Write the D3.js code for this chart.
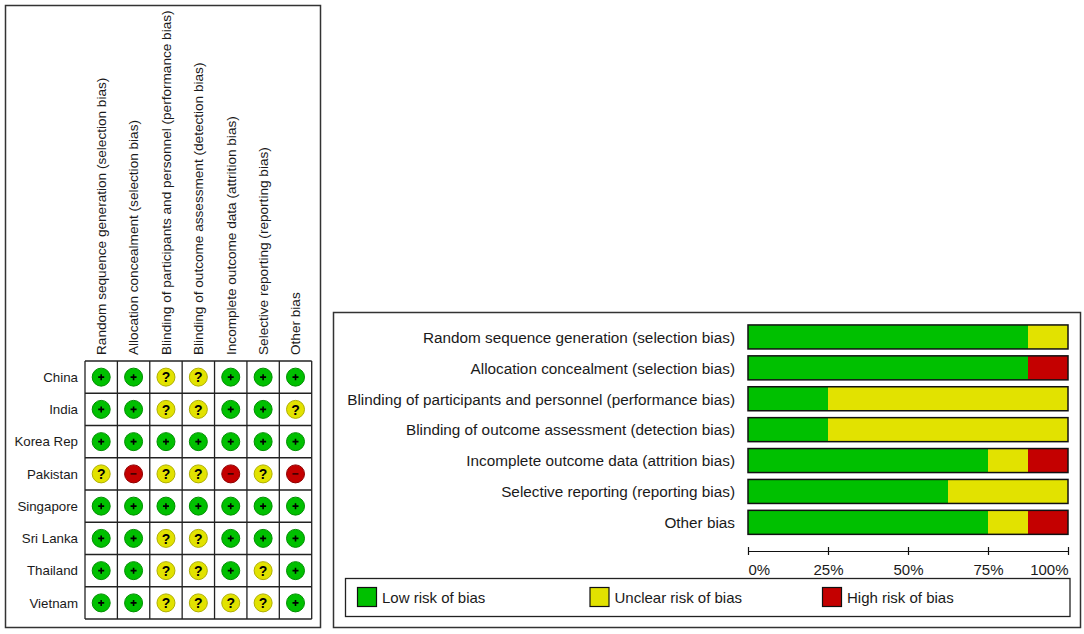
<!DOCTYPE html>
<html>
<head>
<meta charset="utf-8">
<script src="https://cdn.jsdelivr.net/npm/d3@7"></script>
<style>
  body { margin: 0; background: #fff; }
  text { font-family: "Liberation Sans", Arial, sans-serif; fill: #1a1a1a; }
</style>
</head>
<body>
<svg width="1084" height="634"></svg>
<script>
// risk of bias domains (columns / bar rows)
var domains = [
    "Random sequence generation (selection bias)",
    "Allocation concealment (selection bias)",
    "Blinding of participants and personnel (performance bias)",
    "Blinding of outcome assessment (detection bias)",
    "Incomplete outcome data (attrition bias)",
    "Selective reporting (reporting bias)",
    "Other bias"
];
var barLabels = domains;

var studies = ["China", "India", "Korea Rep", "Pakistan", "Singapore", "Sri Lanka", "Thailand", "Vietnam"];

// judgements per study, in domain order: L = low, U = unclear, H = high
var judgements = [
    ["L", "L", "U", "U", "L", "L", "L"],
    ["L", "L", "U", "U", "L", "L", "U"],
    ["L", "L", "L", "L", "L", "L", "L"],
    ["U", "H", "U", "U", "H", "U", "H"],
    ["L", "L", "L", "L", "L", "L", "L"],
    ["L", "L", "U", "U", "L", "L", "L"],
    ["L", "L", "U", "U", "L", "U", "L"],
    ["L", "L", "U", "U", "U", "U", "L"]
];

// summary percentages per domain
var lowPct     = [87.5, 87.5, 25, 25, 75, 62.5, 75];
var unclearPct = [12.5, 0, 75, 75, 12.5, 37.5, 12.5];
var highPct    = [0, 12.5, 0, 0, 12.5, 0, 12.5];

var tickValues = [0, 25, 50, 75, 100];
var legendLabels = ["Low risk of bias", "Unclear risk of bias", "High risk of bias"];

var colors = { L: "#00c000", U: "#e2e200", H: "#c40000" };
var edge   = { L: "#009000", U: "#b0b000", H: "#900000" };

var svg = d3.select('svg');

// ---------- left panel: traffic light grid ----------
svg.append("rect")
    .attr("x", 5.5).attr("y", 5.5)
    .attr("width", 315).attr("height", 622)
    .attr("fill", "none")
    .attr("stroke", "#333")
    .attr("stroke-width", 1.5);

var gx = d3.scaleBand().domain(d3.range(domains.length)).range([85, 311.7]);
var gy = d3.scaleBand().domain(studies).range([361, 619]);

var grid = svg.append("g");

grid.selectAll("line.v")
    .data(d3.range(domains.length + 1)).enter()
    .append("line")
    .attr("x1", function(d) { return 85 + d * gx.bandwidth(); })
    .attr("x2", function(d) { return 85 + d * gx.bandwidth(); })
    .attr("y1", 361).attr("y2", 619)
    .attr("stroke", "#222").attr("stroke-width", 1.3);

grid.selectAll("line.h")
    .data(d3.range(studies.length + 1)).enter()
    .append("line")
    .attr("y1", function(d) { return 361 + d * gy.bandwidth(); })
    .attr("y2", function(d) { return 361 + d * gy.bandwidth(); })
    .attr("x1", 85).attr("x2", 311.7)
    .attr("stroke", "#222").attr("stroke-width", 1.3);

// column headers
grid.selectAll("text.col")
    .data(domains).enter()
    .append("text")
    .attr("transform", function(d, i) {
        return "translate(" + (gx(i) + gx.bandwidth() / 2) + ",355) rotate(-90)";
    })
    .attr("dy", "0.35em")
    .attr("font-size", 13.6)
    .text(function(d) { return d; });

// row labels
grid.selectAll("text.row")
    .data(studies).enter()
    .append("text")
    .attr("x", 78)
    .attr("y", function(d) { return gy(d) + gy.bandwidth() / 2; })
    .attr("dy", "0.35em")
    .attr("text-anchor", "end")
    .attr("font-size", 13.3)
    .text(function(d) { return d; });

// cells
var cells = [];
judgements.forEach(function(row, r) {
    row.forEach(function(j, c) { cells.push({ study: studies[r], col: c, j: j }); });
});

var cell = grid.selectAll("g.cell")
    .data(cells).enter()
    .append("g")
    .attr("transform", function(d) {
        return "translate(" + (gx(d.col) + gx.bandwidth() / 2) + "," + (gy(d.study) + gy.bandwidth() / 2) + ")";
    });

cell.append("circle")
    .attr("r", 9)
    .attr("fill", function(d) { return colors[d.j]; })
    .attr("stroke", function(d) { return edge[d.j]; })
    .attr("stroke-width", 1);

cell.filter(function(d) { return d.j === "L"; })
    .append("path")
    .attr("d", "M-3,0H3M0,-3V3")
    .attr("stroke", "#000").attr("stroke-width", 1.6);

cell.filter(function(d) { return d.j === "H"; })
    .append("path")
    .attr("d", "M-3,0H3")
    .attr("stroke", "#3a0000").attr("stroke-width", 1.6);

cell.filter(function(d) { return d.j === "U"; })
    .append("text")
    .attr("text-anchor", "middle")
    .attr("dy", "0.37em")
    .attr("font-size", 14)
    .attr("font-weight", "bold")
    .style("fill", "#000")
    .text("?");

// ---------- right panel: summary bars ----------
svg.append("rect")
    .attr("x", 333.5).attr("y", 312.5)
    .attr("width", 747).attr("height", 315)
    .attr("fill", "none")
    .attr("stroke", "#333")
    .attr("stroke-width", 1.5);

var x = d3.scaleLinear().domain([0, 100]).range([748, 1068]);
var y = d3.scaleBand().domain(barLabels).range([321.5, 537.8]).paddingInner(0.223).paddingOuter(0.1115);

var rows = barLabels.map(function(d, i) {
    return { label: d, L: lowPct[i], U: unclearPct[i], H: highPct[i] };
});
var stack = d3.stack().keys(["L", "U", "H"])(rows);

var bars = svg.append("g");

bars.selectAll("g.layer")
    .data(stack).enter()
    .append("g")
    .attr("fill", function(d) { return colors[d.key]; })
    .selectAll("rect")
    .data(function(d) { return d; }).enter()
    .append("rect")
    .attr("x", function(d) { return x(d[0]); })
    .attr("width", function(d) { return x(d[1]) - x(d[0]); })
    .attr("y", function(d) { return y(d.data.label); })
    .attr("height", y.bandwidth());

bars.selectAll("rect.outline")
    .data(rows).enter()
    .append("rect")
    .attr("x", x(0))
    .attr("width", x(100) - x(0))
    .attr("y", function(d) { return y(d.label); })
    .attr("height", y.bandwidth())
    .attr("fill", "none")
    .attr("stroke", "#111")
    .attr("stroke-width", 1.5);

bars.selectAll("text.lab")
    .data(barLabels).enter()
    .append("text")
    .attr("x", 735)
    .attr("y", function(d) { return y(d) + y.bandwidth() / 2; })
    .attr("dy", "0.38em")
    .attr("text-anchor", "end")
    .attr("font-size", 15.3)
    .text(function(d) { return d; });

// axis
var axis = svg.append("g")
    .attr("transform", "translate(0,551)")
    .call(d3.axisBottom(x)
        .tickValues(tickValues)
        .tickSizeInner(4)
        .tickSizeOuter(0)
        .tickPadding(9)
        .tickFormat(function(d) { return d + "%"; }));

axis.select(".domain").attr("stroke", "#111").attr("stroke-width", 1.2);
axis.selectAll(".tick line").attr("y1", -4).attr("y2", 4).attr("stroke", "#111").attr("stroke-width", 1.2);
axis.selectAll(".tick text")
    .attr("font-family", "\"Liberation Sans\", Arial, sans-serif")
    .attr("font-size", 15)
    .style("fill", "#1a1a1a")
    .attr("text-anchor", function(d, i) { return i === 0 ? "start" : (i === tickValues.length - 1 ? "end" : "middle"); });

// legend
var legend = svg.append("g");
legend.append("rect")
    .attr("x", 345.5).attr("y", 578.5)
    .attr("width", 724.5).attr("height", 38)
    .attr("fill", "none")
    .attr("stroke", "#222")
    .attr("stroke-width", 1.3);

var legendX = [357.5, 590, 822.5];
var keys = ["L", "U", "H"];
var item = legend.selectAll("g.item")
    .data(keys).enter()
    .append("g")
    .attr("transform", function(d, i) { return "translate(" + legendX[i] + ",587.5)"; });

item.append("rect")
    .attr("width", 19).attr("height", 19)
    .attr("fill", function(d) { return colors[d]; })
    .attr("stroke", "#111")
    .attr("stroke-width", 1.2);

item.append("text")
    .attr("x", 24.5)
    .attr("y", 10)
    .attr("dy", "0.36em")
    .attr("font-size", 15)
    .text(function(d, i) { return legendLabels[i]; });
</script>
</body>
</html>
